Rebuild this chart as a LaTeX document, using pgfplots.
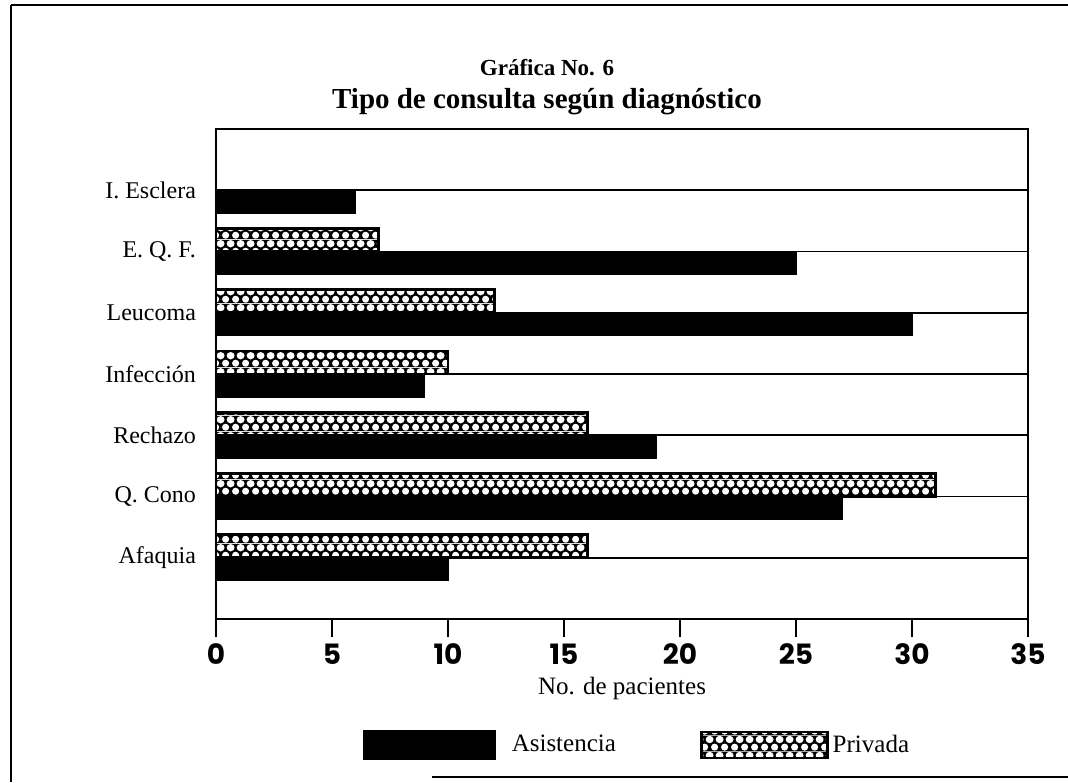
\documentclass[border=0pt]{standalone}
\usepackage{fontspec}
\setmainfont{Liberation Serif}
\newfontfamily\tickfont{Poppins}
\usepackage{pgfplots}
\usepackage{pgfplotstable}
\pgfplotsset{compat=1.18}
\usetikzlibrary{patterns}
\pgfdeclarepatterninherentlycolored{bwdots}{\pgfqpoint{0pt}{0pt}}{\pgfqpoint{4.8pt}{8pt}}{\pgfqpoint{4.8pt}{8pt}}{%
  \pgfsetfillcolor{black}%
  \pgfpathrectangle{\pgfpointorigin}{\pgfqpoint{4.8pt}{8pt}}%
  \pgfusepath{fill}%
  \pgfsetfillcolor{white}%
  \pgfpathcircle{\pgfqpoint{2.4pt}{2pt}}{1.85pt}%
  \pgfpathcircle{\pgfqpoint{0pt}{6pt}}{1.85pt}%
  \pgfpathcircle{\pgfqpoint{4.8pt}{6pt}}{1.85pt}%
  \pgfusepath{fill}}

% y: 7 = I. Esclera (top) ... 1 = Afaquia (bottom)
\pgfplotstableread{
val pos
6  7
25 6
30 5
9  4
19 3
27 2
10 1
}\asistencia
\pgfplotstableread{
val pos
7  6
12 5
10 4
16 3
31 2
16 1
}\privada

\begin{document}
\begin{tikzpicture}
\path[use as bounding box] (0,0) rectangle (534pt,391pt);
% frame
\draw[line width=1.1pt] (5.5pt,388.5pt) -- (534pt,388.5pt);
\draw[line width=1.1pt] (5.5pt,388.5pt) -- (5.5pt,0pt);
\draw[line width=1.1pt] (216pt,2.5pt) -- (534pt,2.5pt);
% titles
\node[font=\bfseries\fontsize{11.5}{13}\selectfont] at (273.5pt,357pt) {Gráfica No. 6};
\node[font=\bfseries\fontsize{14.5}{16}\selectfont] at (273.5pt,340pt) {Tipo de consulta según diagnóstico};
\begin{axis}[
  at={(108pt,81.5pt)}, anchor=south west,
  scale only axis, width=406pt, height=245pt,
  xmin=0, xmax=35, ymin=0, ymax=8,
  axis line style={line width=1.1pt},
  xtick={0,5,...,35}, xtick pos=lower, tick align=outside,
  major tick length=9pt,
  tick style={black, line width=1pt},
  xticklabel style={font=\tickfont\bfseries\fontsize{14}{14}\selectfont},
  /pgf/number format/assume math mode=true,
  ytick={1,...,7},
  yticklabels={Afaquia, Q. Cono, Rechazo, Infección, Leucoma, E. Q. F., I. Esclera},
  ytick style={draw=none},
  yticklabel style={font=\fontsize{12}{14}\selectfont, xshift=2.5pt},
  ymajorgrids, grid style={black, line width=0.9pt},
  xlabel={No. de pacientes},
  xlabel style={font=\fontsize{12.5}{14}\selectfont, at={(axis description cs:0.5,0)}, anchor=center, yshift=-34.5pt},
  legend columns=2,
  legend style={draw=none, at={(axis description cs:0.52,-0.257)}, anchor=center,
    font=\fontsize{12.5}{14}\selectfont,
    /tikz/every even column/.append style={column sep=40pt}},
]
\addplot[xbar, bar width=11.5pt, bar shift=-5.75pt, fill=black, draw=black,
  legend image code/.code={\fill[black] (0pt,-7.25pt) rectangle (66pt,7.25pt);
    \path[draw=none, fill=none] (66pt,0) -- (72pt,0);}]
  table[x=val, y=pos] {\asistencia};
\addlegendentry{Asistencia}
\addplot[xbar, bar width=11.5pt, bar shift=5.75pt, pattern=bwdots, draw=black, line width=1.4pt,
  legend image code/.code={\draw[pattern=bwdots, draw=black, line width=1.4pt] (0pt,-6.5pt) rectangle (63pt,6.5pt);}]
  table[x=val, y=pos] {\privada};
\addlegendentry{Privada}
\end{axis}
\end{tikzpicture}
\end{document}
